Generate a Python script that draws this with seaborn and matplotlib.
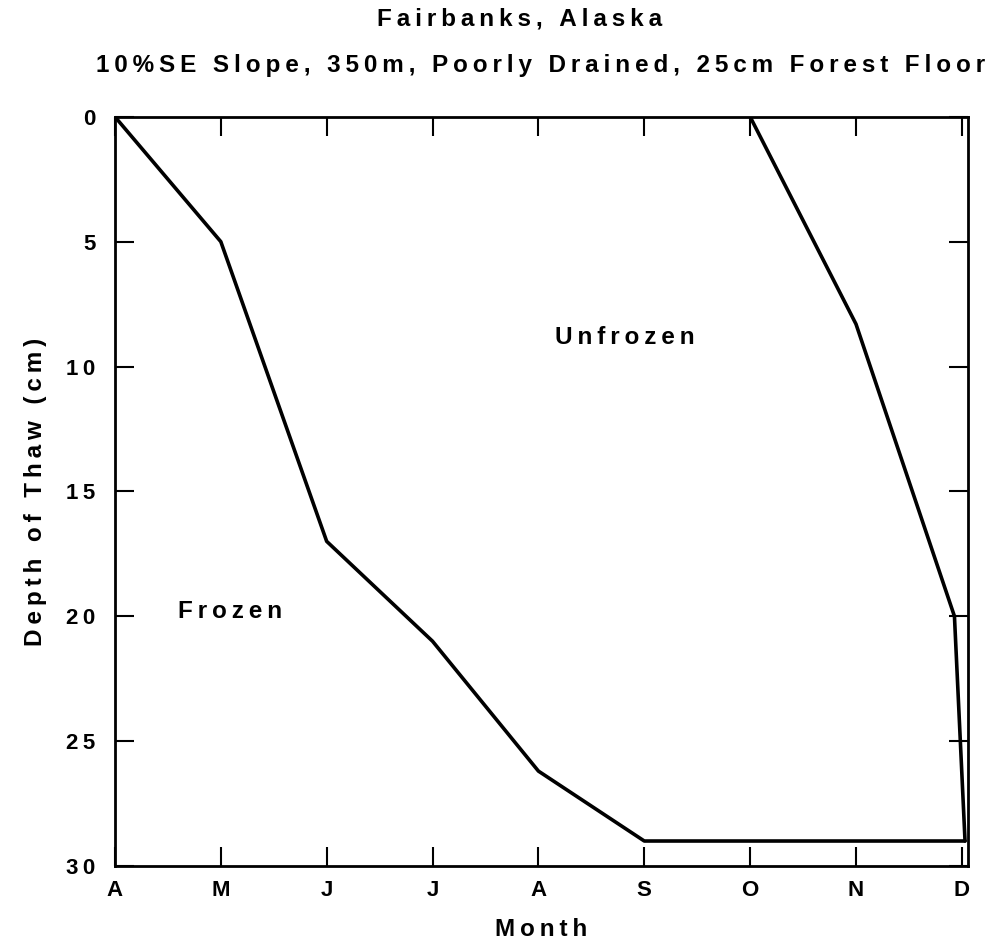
import matplotlib
matplotlib.use("Agg")
import matplotlib.pyplot as plt
import seaborn as sns
import pandas as pd

month_labels = ["A", "M", "J", "J", "A", "S", "O", "N", "D"]
depth_ticks = [0, 5, 10, 15, 20, 25, 30]
thaw_month = [0, 1, 2, 3, 4, 5, 8.03]
thaw_depth = [0, 5, 17, 21, 26.2, 29, 29]
freeze_month = [6, 7, 7.93, 8.03]
freeze_depth = [0, 8.3, 20, 29]

title1 = "Fairbanks, Alaska"
title2 = "10%SE Slope, 350m, Poorly Drained, 25cm Forest Floor"


def spaced(s):
    # letter-spaced look of the original typesetting (thin spaces)
    return "\u2009".join(s)


sns.set_theme(style="white")
plt.rcParams['font.family'] = ['Liberation Sans', 'DejaVu Sans']
plt.rcParams['font.weight'] = 'bold'
plt.rcParams['text.color'] = 'black'
plt.rcParams['axes.labelcolor'] = 'black'

fig = plt.figure(figsize=(9.91, 9.42), dpi=100)
ax = fig.add_axes([0.116, 0.0807, 0.861, 0.7953])

thaw = pd.DataFrame({"month": thaw_month, "depth": thaw_depth})
freeze = pd.DataFrame({"month": freeze_month, "depth": freeze_depth})
sns.lineplot(data=thaw, x="month", y="depth", sort=False, color="black", lw=2.6, ax=ax)
sns.lineplot(data=freeze, x="month", y="depth", sort=False, color="black", lw=2.6, ax=ax)

ax.set_xlim(0, 8.06)
ax.set_ylim(30, 0)
ax.set_xticks(range(len(month_labels)))
ax.set_xticklabels(month_labels)
ax.set_yticks(depth_ticks)
ax.set_yticklabels([spaced(str(v)) for v in depth_ticks])
ax.tick_params(direction="in", length=14, width=1.5, top=True, right=True,
               bottom=True, left=True, labelsize=16, colors="black")
ax.tick_params(axis="y", pad=14)
ax.tick_params(axis="x", pad=10)
for lab in ax.get_xticklabels() + ax.get_yticklabels():
    lab.set_fontweight("bold")
for s in ax.spines.values():
    s.set_color("black")
    s.set_linewidth(2)

ax.set_xlabel(spaced("Month"), fontsize=17.5, fontweight="bold", labelpad=12)
ax.set_ylabel(spaced("Depth of Thaw (cm)"), fontsize=17.5, fontweight="bold", labelpad=14)

ax.text(4.82, 8.85, spaced("Unfrozen"), fontsize=17.5, fontweight="bold", ha="center", va="center")
ax.text(1.09, 19.8, spaced("Frozen"), fontsize=17.5, fontweight="bold", ha="center", va="center")

fig.text(0.524, 0.980, spaced(title1), fontsize=17.5, fontweight="bold", ha="center", va="center")
fig.text(0.545, 0.930, spaced(title2), fontsize=17.5, fontweight="bold", ha="center", va="center")

fig.savefig("out.png", dpi=100, facecolor="white")
